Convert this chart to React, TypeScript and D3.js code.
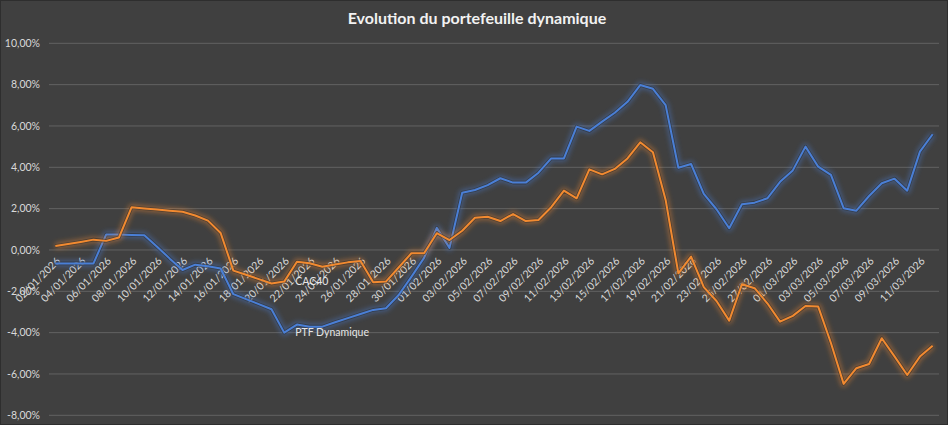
import React from "react";
import * as d3 from "d3";

const TITLE = "Evolution du portefeuille dynamique";
const SERIES_NAMES = ["PTF Dynamique", "CAC40"];
const FIRST_DAY = new Date(2026, 0, 2);
const LAST_DAY = new Date(2026, 2, 12);
const DAYS = d3.timeDay.range(FIRST_DAY, d3.timeDay.offset(LAST_DAY, 1));

// values in %
const PTF_VALUES = [
  -0.65, -0.65, -0.65, -0.65, 0.75, 0.75, 0.73, 0.71, 0.16, -0.42,
  -0.97, -0.71, -0.79, -0.9, -2.14, -2.38, -2.62, -2.87, -4.0, -3.61,
  -3.71, -3.71, -3.5, -3.3, -3.1, -2.9, -2.82, -2.18, -1.3, -0.38,
  1.07, 0.1, 2.77, 2.9, 3.14, 3.47, 3.26, 3.26, 3.74, 4.43,
  4.43, 5.97, 5.76, 6.21, 6.64, 7.17, 7.98, 7.8, 7.01, 3.98,
  4.16, 2.71, 1.97, 1.05, 2.21, 2.29, 2.5, 3.3, 3.85, 5.0,
  4.03, 3.63, 2.02, 1.9, 2.61, 3.23, 3.45, 2.87, 4.76, 5.6,
];
const CAC_VALUES = [
  0.19, 0.29, 0.39, 0.5, 0.44, 0.6, 2.07, 2.01, 1.96, 1.9,
  1.85, 1.67, 1.42, 0.82, -1.0, -1.2, -1.41, -1.62, -1.53, -0.57,
  -0.64, -0.81, -0.7, -0.6, -0.53, -1.56, -1.53, -0.85, -0.16, -0.16,
  0.81, 0.48, 0.93, 1.56, 1.61, 1.4, 1.74, 1.4, 1.45, 2.07,
  2.87, 2.5, 3.9, 3.66, 3.92, 4.43, 5.21, 4.73, 2.42, -1.13,
  -0.32, -1.8, -2.47, -3.42, -1.66, -1.85, -2.58, -3.47, -3.19, -2.71,
  -2.74, -4.5, -6.48, -5.72, -5.52, -4.27, -5.15, -6.05, -5.16, -4.63,
];
const Y_TICKS = [-8, -6, -4, -2, 0, 2, 4, 6, 8, 10];
const LABEL_INDEX = 18; // point where series-name labels are attached

const W = 948;
const H = 425;
const PLOT = { left: 49, right: 939, top: 43.3, bottom: 415.3 };
const COLORS = ["#4a7fd6", "#f28a30"];
const FONT = "Lato, Carlito, 'Open Sans', sans-serif";
const TEXT = "#d9d9d9";

const fmtDate = d3.timeFormat("%d/%m/%Y");
const fmtPct = (v: number) => v.toFixed(2).replace(".", ",") + "%";

export default function App() {
  const keys = DAYS.map((d) => fmtDate(d));
  const x = d3.scaleBand<string>().domain(keys).range([PLOT.left, PLOT.right]);
  const cx = (i: number) => (x(keys[i]) as number) + x.bandwidth() / 2;
  const y = d3.scaleLinear().domain([-8, 10]).range([PLOT.bottom, PLOT.top]);

  const series = [PTF_VALUES, CAC_VALUES];
  const line = d3
    .line<number>()
    .x((_, i) => cx(i))
    .y((v) => y(v));

  return (
    <svg
      width={W}
      height={H}
      style={{ position: "absolute", left: 0, top: 0, display: "block" }}
    >
      <defs>
        <filter id="glow" x="-20%" y="-20%" width="140%" height="140%">
          <feGaussianBlur stdDeviation="2.6" />
        </filter>
      </defs>
      <rect x={0} y={0} width={W} height={H} fill="#404040" />
      <rect x={0.5} y={0.5} width={W - 1} height={H - 1} fill="none" stroke="#2e2e2e" />
      <text
        x={477}
        y={24}
        textAnchor="middle"
        fill="#f2f2f2"
        fontFamily={FONT}
        fontWeight="bold"
        fontSize={16}
      >
        {TITLE}
      </text>
      {Y_TICKS.map((t) => (
        <g key={t}>
          <line
            x1={PLOT.left}
            x2={PLOT.right}
            y1={y(t)}
            y2={y(t)}
            stroke="#626262"
            strokeWidth={1}
          />
          <text
            x={40}
            y={y(t)}
            dy="0.35em"
            textAnchor="end"
            fill={TEXT}
            fontFamily={FONT}
            fontSize={10.5}
          >
            {fmtPct(t)}
          </text>
        </g>
      ))}
      {keys.map((k, i) =>
        i % 2 === 0 ? (
          <text
            key={k}
            transform={`translate(${cx(i) + 3},${y(0) + 9}) rotate(-45)`}
            textAnchor="end"
            dy="0.35em"
            fill={TEXT}
            fontFamily={FONT}
            fontSize={10.5}
          >
            {k}
          </text>
        ) : null
      )}
      {series.map((vals, s) => (
        <g key={s}>
          <path
            d={line(vals) || ""}
            fill="none"
            stroke={COLORS[s]}
            strokeWidth={6}
            strokeOpacity={0.45}
            strokeLinejoin="round"
            filter="url(#glow)"
          />
          <path
            d={line(vals) || ""}
            fill="none"
            stroke="#2a2a2a"
            strokeOpacity={0.55}
            strokeWidth={3.6}
            strokeLinejoin="round"
          />
          <path
            d={line(vals) || ""}
            fill="none"
            stroke={COLORS[s]}
            strokeWidth={2}
            strokeLinejoin="round"
          />
        </g>
      ))}
      {series.map((vals, s) => (
        <text
          key={"lab" + s}
          x={cx(LABEL_INDEX) + 11}
          y={y(vals[LABEL_INDEX])}
          dy="0.35em"
          fill="#e6e6e6"
          fontFamily={FONT}
          fontSize={10.5}
        >
          {SERIES_NAMES[s]}
        </text>
      ))}
    </svg>
  );
}
